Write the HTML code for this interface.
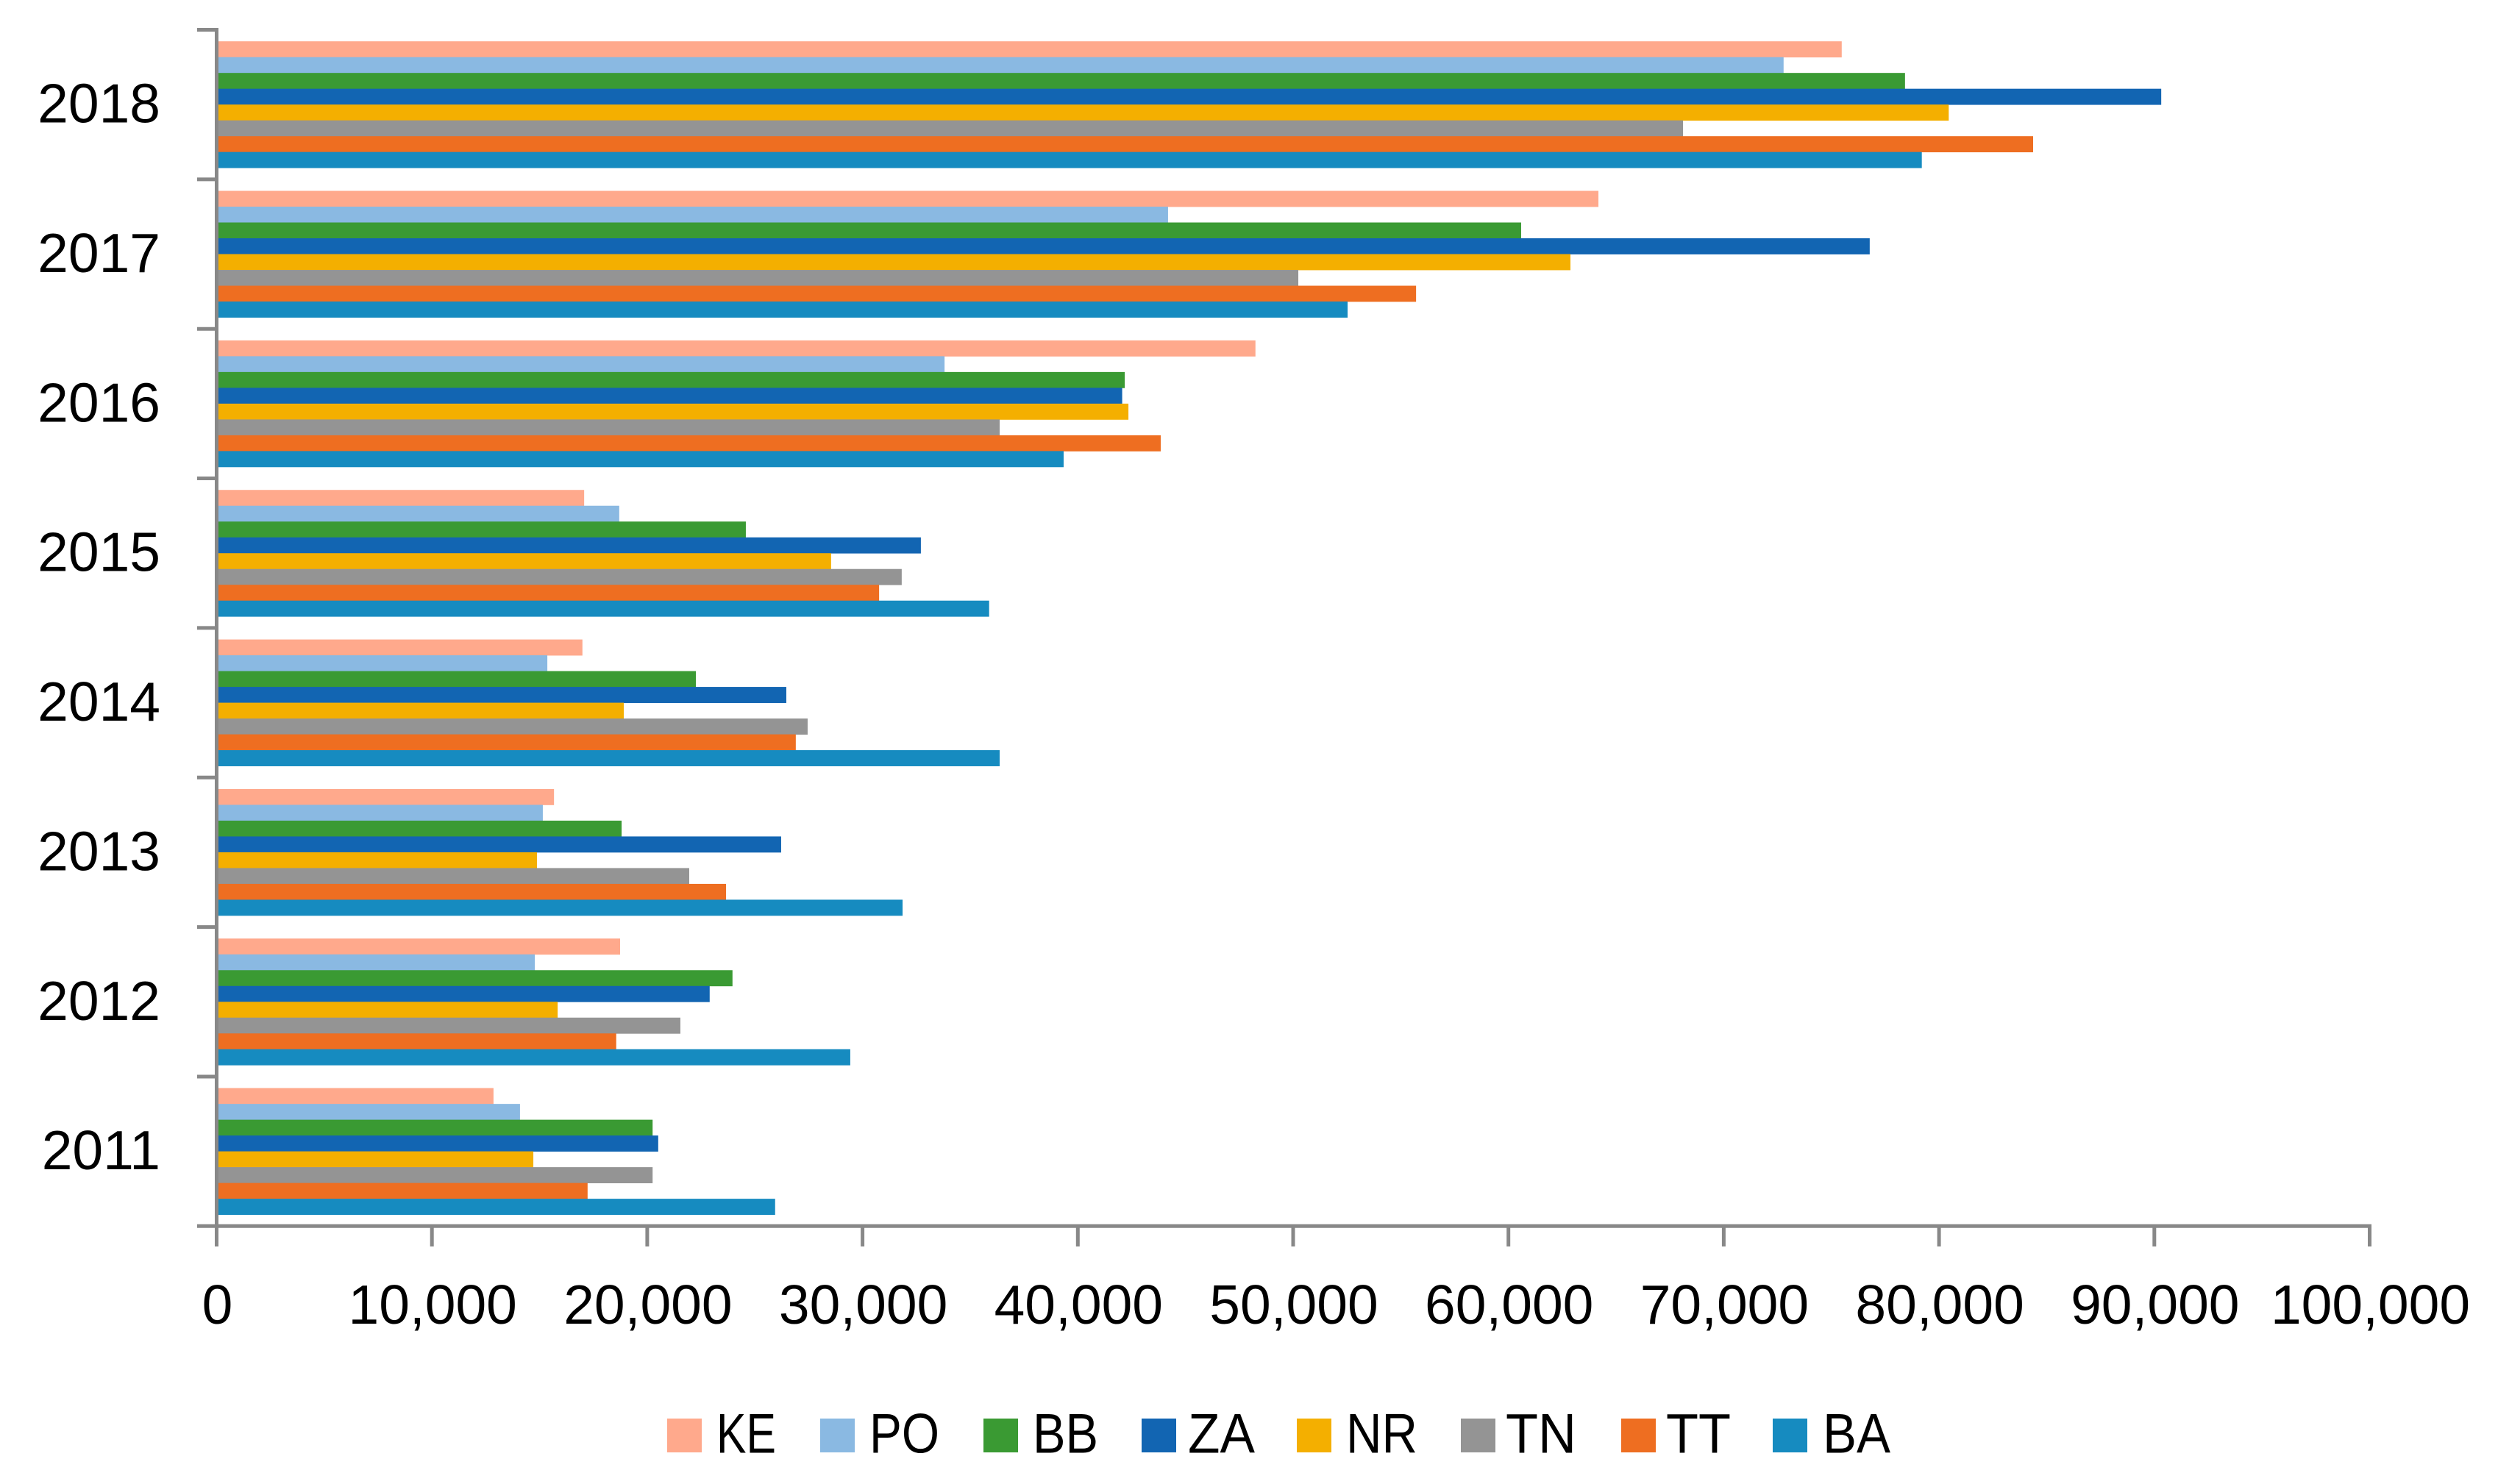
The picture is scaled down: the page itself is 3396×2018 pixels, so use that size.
<!DOCTYPE html>
<html lang="en">
<head>
<meta charset="utf-8">
<title>Horizontal bar chart by region, 2011–2018</title>
<style>
html,body{margin:0;padding:0;background:#fff;}
svg{display:block;}
text{font-family:"Liberation Sans",sans-serif;fill:#000;}
</style>
</head>
<body>
<svg id="chart" xmlns="http://www.w3.org/2000/svg" width="3396" height="2018" viewBox="0 0 3396 2018"></svg>
<script>
const years = ['2018','2017','2016','2015','2014','2013','2012','2011'];
const seriesNames = ['KE','PO','BB','ZA','NR','TN','TT','BA'];
const seriesColors = ['#FFA98C','#8AB9E2','#3A9A33','#1265B2','#F4AF00','#949494','#EE6E21','#168BC0'];
const valuesKE = [75480,64180,48250,17070,16990,15670,18740,12860];
const valuesPO = [72780,44190,33810,18700,15360,15150,14780,14090];
const valuesBB = [78420,60590,42180,24580,22260,18810,23960,20250];
const valuesZA = [90320,76780,42060,32710,26460,26220,22900,20510];
const valuesNR = [80450,62880,42350,28540,18910,14880,15840,14710];
const valuesTN = [68110,50240,36370,31820,27450,21950,21540,20250];
const valuesTT = [84370,55710,43850,30770,26900,23660,18560,17230];
const valuesBA = [79200,52530,39340,35880,36370,31860,29430,25940];
const allValues = [valuesKE,valuesPO,valuesBB,valuesZA,valuesNR,valuesTN,valuesTT,valuesBA];
const xTickValues = [0,10000,20000,30000,40000,50000,60000,70000,80000,90000,100000];
const xTickLabels = ['0','10,000','20,000','30,000','40,000','50,000','60,000','70,000','80,000','90,000','100,000'];

const NS = 'http://www.w3.org/2000/svg';
const svg = document.getElementById('chart');
const AXIS = '#888888';
const X0 = 294.5, X_MAX = 3221.5, DOMAIN_MAX = 100000;
const Y_TOP = 40.5, Y_BOTTOM = 1667.3;
const BAND = (Y_BOTTOM - Y_TOP) / years.length;
const BAR_H = 21.5;
const BAR_PAD = (BAND - BAR_H * seriesNames.length) / 2;

function xScale(v){ return X0 + (v / DOMAIN_MAX) * (X_MAX - X0); }
function bandTop(i){ return Y_TOP + i * BAND; }

function make(tag, props, parent){
  const el = document.createElementNS(NS, tag);
  for (const k in props) el.setAttribute(k, props[k]);
  (parent || svg).appendChild(el);
  return el;
}

// Bars
years.forEach(function(year, yi){
  seriesNames.forEach(function(name, si){
    const y0 = bandTop(yi) + BAR_PAD + si * BAR_H;
    const bar = make('rect', {
      x: xScale(0),
      y: y0,
      width: xScale(allValues[si][yi]) - xScale(0),
      height: BAR_H + 0.4,
      fill: seriesColors[si]
    });
    
    
  });
});

// Axes
const yAxis = make('line', {x1:X0, x2:X0, y1:Y_TOP-2.5, y2:1695, stroke:AXIS, 'stroke-width':5});



const xAxis = make('line', {x1:268, x2:X_MAX+2.5, y1:Y_BOTTOM, y2:Y_BOTTOM, stroke:AXIS, 'stroke-width':5});



// Category ticks (top edge of each band)
years.forEach(function(year, yi){
  const tick = make('line', {x1:268, x2:X0, y1:bandTop(yi), y2:bandTop(yi), stroke:AXIS, 'stroke-width':5});
  
  

  const label = make('text', {x:218, y:bandTop(yi) + BAND/2 + 24.5, 'text-anchor':'end', 'font-size':75});
  label.textContent = year;
  
  
});

// Value ticks
xTickValues.forEach(function(v, i){
  const tx = xScale(v);
  const tick = make('line', {x1:tx, x2:tx, y1:Y_BOTTOM, y2:1695, stroke:AXIS, 'stroke-width':5});
  
  

  const label = make('text', {x:tx + 1, y:1800, 'text-anchor':'middle', 'font-size':75});
  label.textContent = xTickLabels[i];
  
  
});

// Legend layout
const legendSwatchX = [907,1115,1337,1552,1763,1986,2204,2410];
const legendTextX = [978,1186,1408,1619,1834,2051,2269,2482];
const legendTextW = [73,87,81,83,89,88,80,84];
seriesNames.forEach(function(name, si){
  const group = make('g', {});
  
  

  const swatch = make('rect', {x:legendSwatchX[si], y:1929, width:47, height:46, fill:seriesColors[si]}, group);
  
  

  const label = make('text', {
    x: legendTextX[si] - 4,
    y: 1975.5,
    'font-size': 76,
    textLength: legendTextW[si] + 8,
    lengthAdjust: 'spacingAndGlyphs'
  }, group);
  label.textContent = name;
  
  
});
</script>
</body>
</html>
